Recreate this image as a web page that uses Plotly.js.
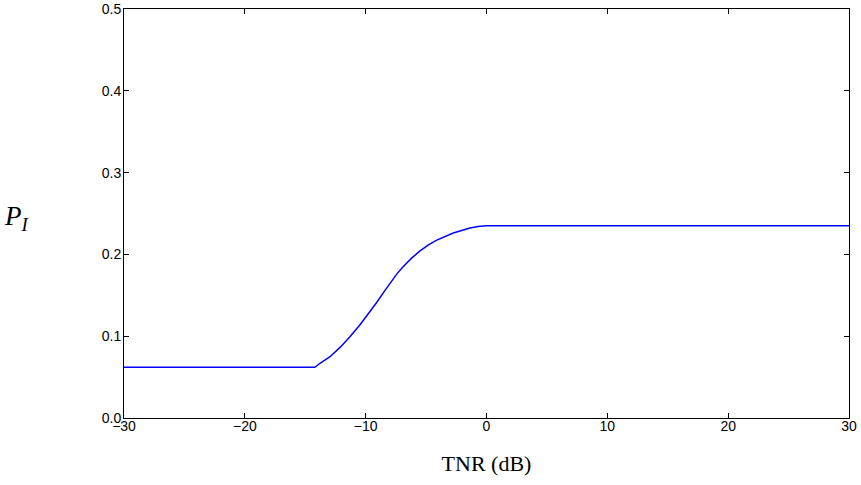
<!DOCTYPE html>
<html><head><meta charset="utf-8">
<script src="https://cdn.plot.ly/plotly-3.0.1.min.js"></script>
<style>html,body{margin:0;padding:0;background:#fff}</style>
</head><body>
<div id="plot" style="width:861px;height:485px"></div>
<script>
const tnr = [-30, -14.2, -13.78, -12.95, -12.1, -11.3, -10.45, -9.64, -9.09, -8.4, -7.99, -7.4, -6.88, -6.2, -5.5, -4.8, -4.12, -3.4, -2.75, -2.05, -1.37, -0.7, 0, 30];
const pI  = [0.062, 0.062, 0.0669, 0.0749, 0.0866, 0.0992, 0.1143, 0.1298, 0.1412, 0.1560, 0.1650, 0.1765, 0.1853, 0.1954, 0.2042, 0.2116, 0.2174, 0.2223, 0.2261, 0.2293, 0.2322, 0.2340, 0.2350, 0.2350];
const xTicks = [-30, -20, -10, 0, 10, 20, 30];
const xTickText = ['\u221230', '\u221220', '\u221210', '0', '10', '20', '30'];
const yTicks = [0.0, 0.1, 0.2, 0.3, 0.4, 0.5];
const yTickText = ['0.0', '0.1', '0.2', '0.3', '0.4', '0.5'];

const trace = {x: tnr, y: pI, type: 'scatter', mode: 'lines', line: {color: '#0000ff', width: 1.5}, hoverinfo: 'skip'};
const axBase = {showgrid: false, zeroline: false, showline: true, linecolor: '#000', linewidth: 1, mirror: 'ticks', ticks: 'inside', ticklen: 5, tickcolor: '#000', tickfont: {family: 'Liberation Sans, Arial, sans-serif', size: 14, color: '#000'}};
const layout = {
  width: 861, height: 485,
  margin: {l: 124, r: 12, t: 9, b: 67},
  paper_bgcolor: '#fff', plot_bgcolor: '#fff',
  showlegend: false,
  xaxis: Object.assign({}, axBase, {range: [-30, 30], tickvals: xTicks, ticktext: xTickText, ticklabelstandoff: -5,
    title: {text: 'TNR (dB)', font: {family: 'Liberation Serif, Times New Roman, serif', size: 22, color: '#000'}, standoff: 22}}),
  yaxis: Object.assign({}, axBase, {range: [0, 0.5], tickvals: yTicks, ticktext: yTickText, ticklabelstandoff: -1}),
  annotations: [{text: '<i>P</i><sub><i>I</i></sub>', xref: 'paper', yref: 'paper', x: -0.168, y: 0.49, xanchor: 'left', yanchor: 'middle', showarrow: false, font: {family: 'Liberation Serif, Times New Roman, serif', size: 27, color: '#000'}}]
};
Plotly.newPlot('plot', [trace], layout, {displayModeBar: false, staticPlot: true});
</script>
</body></html>
